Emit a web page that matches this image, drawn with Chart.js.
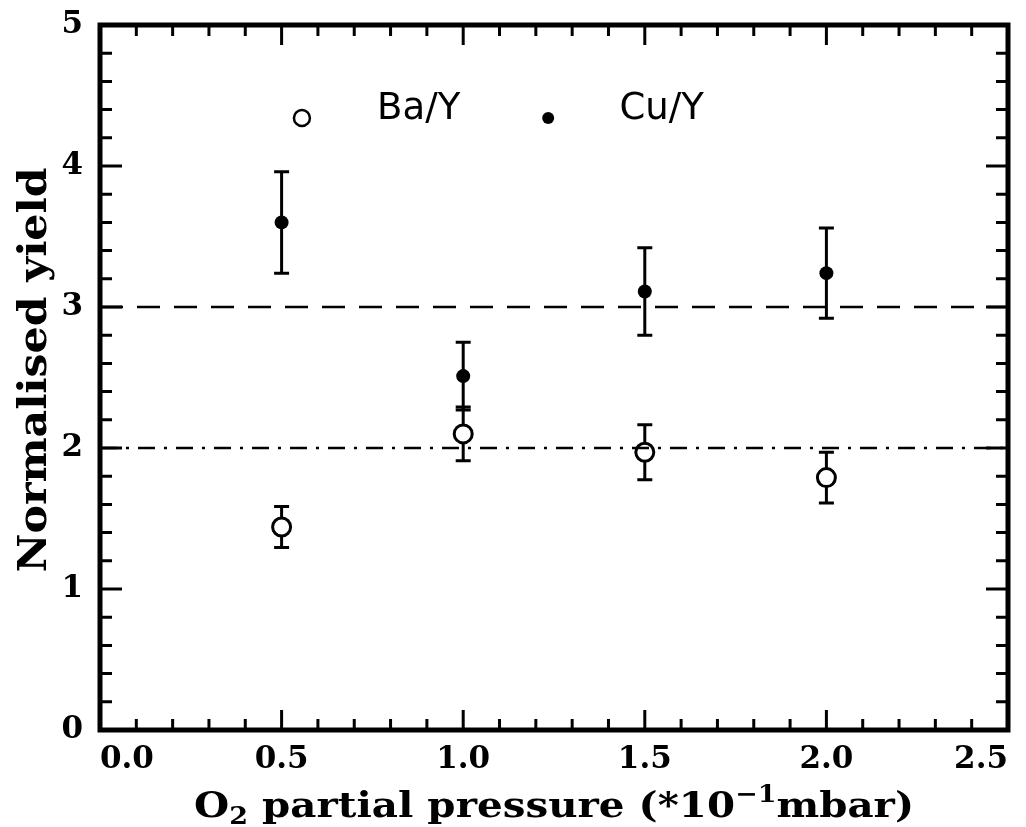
<!DOCTYPE html>
<html>
<head>
<meta charset="utf-8">
<script src="https://cdn.jsdelivr.net/npm/chart.js@4.4.1/dist/chart.umd.min.js"></script>
<style>
  html, body { margin: 0; padding: 0; background: #fff; }
  #wrap { width: 1026px; height: 827px; }
</style>
</head>
<body>
<div id="wrap"><canvas id="grafico"></canvas></div>
<script>
// --- DADOS ---
const pressure = [0.5, 1.0, 1.5, 2.0];          // O2 partial pressure (*10^-1 mbar)
const baY      = [1.44, 2.10, 1.97, 1.79];       // Ba/Y (círculo aberto)
const baErr    = [0.145, 0.19, 0.195, 0.18];
const cuY      = [3.60, 2.51, 3.11, 3.24];       // Cu/Y (ponto cheio)
const cuErr    = [0.36, 0.24, 0.31, 0.32];
const refLevels = [3, 2];                        // linha tracejada e traço-ponto
const xTicks = [0.0, 0.5, 1.0, 1.5, 2.0, 2.5];
const yTicks = [0, 1, 2, 3, 4, 5];

const SERIF = '"DejaVu Serif", serif';
const SANS = '"DejaVu Sans", sans-serif';

// --- PLUGIN: barras de erro ---
const errorBars = {
    id: 'errorBars',
    beforeDatasetsDraw(chart) {
        const { ctx, scales: { x, y } } = chart;
        ctx.save();
        ctx.strokeStyle = '#000';
        ctx.lineWidth = 3;
        const draw = (vals, errs) => {
            vals.forEach((v, i) => {
                const px = x.getPixelForValue(pressure[i]);
                const top = y.getPixelForValue(v + errs[i]);
                const bot = y.getPixelForValue(v - errs[i]);
                ctx.beginPath();
                ctx.moveTo(px, top); ctx.lineTo(px, bot);
                ctx.moveTo(px - 7.5, top); ctx.lineTo(px + 7.5, top);
                ctx.moveTo(px - 7.5, bot); ctx.lineTo(px + 7.5, bot);
                ctx.stroke();
            });
        };
        draw(cuY, cuErr);
        draw(baY, baErr);
        ctx.restore();
    }
};

// --- PLUGIN: moldura com ticks para dentro, legenda e títulos ---
const frame = {
    id: 'frame',
    afterDraw(chart) {
        const { ctx, chartArea: a, scales: { x, y } } = chart;
        ctx.save();
        ctx.strokeStyle = '#000';
        ctx.lineWidth = 3;
        ctx.beginPath();
        // ticks no eixo x (baixo e cima), menores a cada 0.1
        for (let i = 0; i <= 25; i++) {
            const px = x.getPixelForValue(i / 10);
            const len = (i % 5 === 0) ? 20 : 11;
            ctx.moveTo(px, a.bottom); ctx.lineTo(px, a.bottom - len);
            ctx.moveTo(px, a.top); ctx.lineTo(px, a.top + len);
        }
        // ticks no eixo y (esquerda e direita), menores a cada 0.2
        for (let i = 0; i <= 25; i++) {
            const py = y.getPixelForValue(i / 5);
            const len = (i % 5 === 0) ? 22 : 12;
            ctx.moveTo(a.left, py); ctx.lineTo(a.left + len, py);
            ctx.moveTo(a.right, py); ctx.lineTo(a.right - len, py);
        }
        ctx.stroke();
        ctx.lineWidth = 5;
        ctx.strokeRect(a.left, a.top, a.right - a.left, a.bottom - a.top);

        // legenda dentro do gráfico
        const ly = y.getPixelForValue(4.34);
        ctx.lineWidth = 2.5;
        ctx.beginPath();
        ctx.arc(x.getPixelForValue(0.556), ly, 8, 0, Math.PI * 2);
        ctx.stroke();
        ctx.fillStyle = '#000';
        ctx.beginPath();
        ctx.arc(x.getPixelForValue(1.234), ly, 6, 0, Math.PI * 2);
        ctx.fill();
        ctx.font = '37px ' + SANS;
        ctx.textBaseline = 'alphabetic';
        ctx.textAlign = 'left';
        const tb = y.getPixelForValue(4.33);
        ctx.fillText('Ba/Y', x.getPixelForValue(0.763), tb);
        ctx.fillText('Cu/Y', x.getPixelForValue(1.43), tb);

        // título do eixo x com subscrito e sobrescrito
        const parts = [
            { t: 'O', f: 'bold 36px ' + SERIF, dy: 0 },
            { t: '2', f: 'bold 24px ' + SERIF, dy: 7 },
            { t: ' partial pressure (*10', f: 'bold 36px ' + SERIF, dy: 0 },
            { t: '\u22121', f: 'bold 24px ' + SERIF, dy: -15 },
            { t: 'mbar)', f: 'bold 36px ' + SERIF, dy: 0 }
        ];
        let natural = 0;
        parts.forEach(p => { ctx.font = p.f; p.w = ctx.measureText(p.t).width; natural += p.w; });
        const targetW = 720;
        const cx = (a.left + a.right) / 2;
        ctx.save();
        ctx.translate(cx - targetW / 2, 817);
        ctx.scale(targetW / natural, 1);
        let cur = 0;
        parts.forEach(p => {
            ctx.font = p.f;
            ctx.fillText(p.t, cur, p.dy);
            cur += p.w;
        });
        ctx.restore();

        // título do eixo y
        ctx.save();
        ctx.font = 'bold 39px ' + SERIF;
        const yt = 'Normalised yield';
        const yw = ctx.measureText(yt).width;
        ctx.translate(46, 370);
        ctx.rotate(-Math.PI / 2);
        ctx.scale(405 / yw, 1);
        ctx.textAlign = 'center';
        ctx.fillText(yt, 0, 0);
        ctx.restore();

        ctx.restore();
    }
};

// --- CRIA O GRÁFICO ---
function createChart() {
    const ctx = document.getElementById('grafico').getContext('2d');
    const refLine = (level, dash) => ({
        type: 'line',
        data: [{ x: 0, y: level }, { x: 2.5, y: level }],
        borderColor: '#000',
        borderWidth: 2.5,
        borderDash: dash,
        pointRadius: 0,
        fill: false
    });
    return new Chart(ctx, {
        type: 'scatter',
        data: {
            datasets: [
                refLine(refLevels[0], [23, 14]),
                refLine(refLevels[1], [17, 9, 3, 9]),
                {
                    label: 'Ba/Y',
                    data: pressure.map((p, i) => ({ x: p, y: baY[i] })),
                    pointRadius: 9,
                    pointBorderWidth: 3,
                    pointBackgroundColor: '#fff',
                    pointBorderColor: '#000'
                },
                {
                    label: 'Cu/Y',
                    data: pressure.map((p, i) => ({ x: p, y: cuY[i] })),
                    pointRadius: 7,
                    pointBorderWidth: 0,
                    pointBackgroundColor: '#000',
                    pointBorderColor: '#000'
                }
            ]
        },
        options: {
            responsive: true,
            maintainAspectRatio: false,
            animation: false,
            layout: { padding: { top: 25, right: 18, left: 0, bottom: 0 } },
            plugins: { legend: { display: false }, tooltip: { enabled: false } },
            scales: {
                x: {
                    type: 'linear', min: 0, max: 2.5,
                    afterBuildTicks: s => { s.ticks = xTicks.map(v => ({ value: v })); },
                    afterFit: s => { s.height = 97; s.paddingLeft = 0; s.paddingRight = 0; },
                    grid: { display: false, drawTicks: false },
                    border: { display: false },
                    ticks: {
                        color: '#000', padding: 11, maxRotation: 0, align: 'inner',
                        font: { family: SERIF, size: 31, weight: 'bold' },
                        callback: v => Number(v).toFixed(1)
                    }
                },
                y: {
                    type: 'linear', min: 0, max: 5,
                    afterBuildTicks: s => { s.ticks = yTicks.map(v => ({ value: v })); },
                    afterFit: s => { s.width = 100; s.paddingTop = 0; s.paddingBottom = 0; },
                    grid: { display: false, drawTicks: false },
                    border: { display: false },
                    ticks: {
                        color: '#000', padding: 17,
                        font: { family: SERIF, size: 31, weight: 'bold' },
                        callback: v => String(v)
                    }
                }
            }
        },
        plugins: [errorBars, frame]
    });
}

createChart();
</script>
</body>
</html>
